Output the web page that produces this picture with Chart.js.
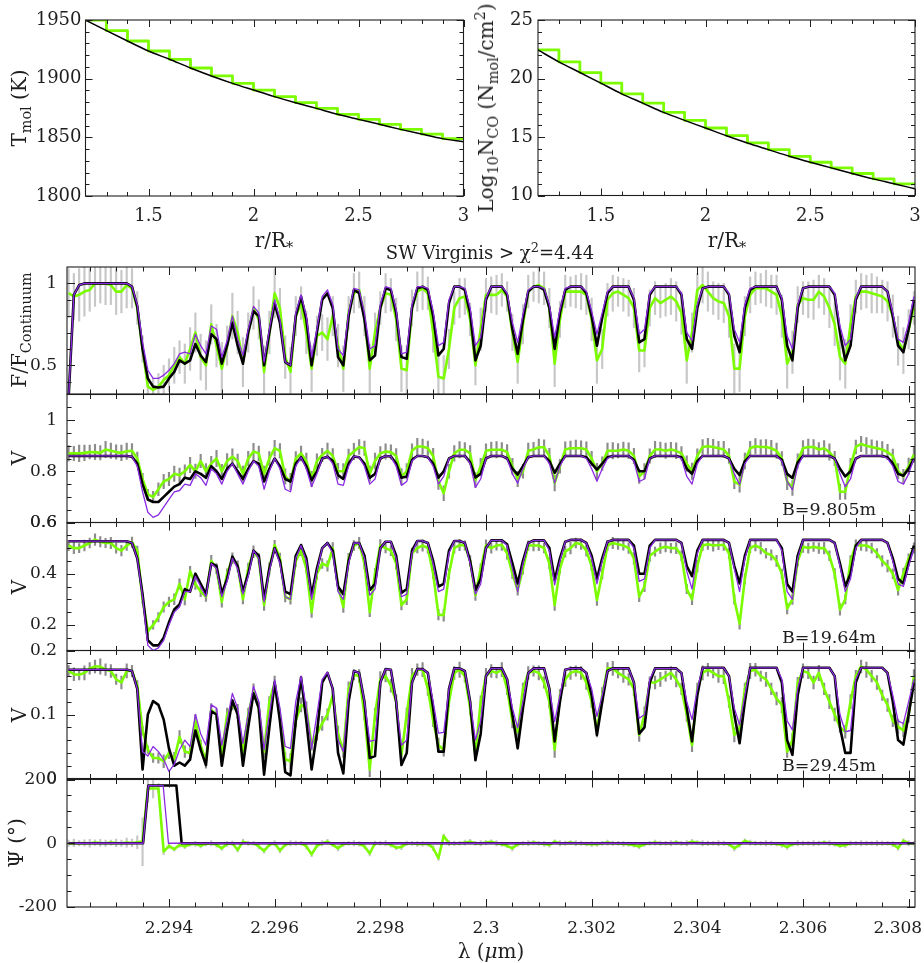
<!DOCTYPE html>
<html lang="en"><head><meta charset="utf-8"><title>SW Virginis CO model fit</title>
<script src="https://cdn.jsdelivr.net/npm/chart.js@4.4.1/dist/chart.umd.min.js"></script>
<style>
html,body{margin:0;padding:0;background:#fff;}
body{width:924px;height:963px;position:relative;overflow:hidden;font-family:'DejaVu Serif','Liberation Serif',serif;color:#1e1e1e;}
canvas{position:absolute;}
.lbl{position:absolute;white-space:nowrap;line-height:1;font-size:20px;font-family:'DejaVu Serif','Liberation Serif',serif;}
.rot{transform:translate(-50%,-50%) rotate(-90deg);}
.ctr{transform:translate(-50%,-50%);}
.lm{transform:translateY(-50%);}
.lbl sub{font-size:72%;vertical-align:-0.32em;line-height:0;}
.lbl sup{font-size:72%;vertical-align:0.55em;line-height:0;}
</style></head><body>
<canvas id="cTmol"></canvas>
<canvas id="cLogN"></canvas>
<canvas id="cFlux"></canvas>
<canvas id="cVis1"></canvas>
<canvas id="cVis2"></canvas>
<canvas id="cVis3"></canvas>
<canvas id="cPsi"></canvas>
<div class="lbl rot" style="left:19px;top:108px">T<sub>mol</sub> (K)</div>
<div class="lbl rot" style="left:486px;top:108px">Log<sub>10</sub>N<sub>CO</sub> (N<sub>mol</sub>/cm<sup>2</sup>)</div>
<div class="lbl ctr" style="left:274px;top:240px">r/R<sub>*</sub></div>
<div class="lbl ctr" style="left:727px;top:240px">r/R<sub>*</sub></div>
<div class="lbl ctr" style="left:490px;top:253px;font-size:18px">SW Virginis &gt; χ<sup>2</sup>=4.44</div>
<div class="lbl rot" style="left:19px;top:330px">F/F<sub>Continuum</sub></div>
<div class="lbl rot" style="left:19px;top:458px">V</div>
<div class="lbl rot" style="left:19px;top:587px">V</div>
<div class="lbl rot" style="left:19px;top:715px">V</div>
<div class="lbl rot" style="left:16px;top:843px">Ψ (°)</div>
<div class="lbl ctr" style="left:491px;top:951px">λ (<i>μ</i>m)</div>
<div class="lbl lm" style="left:782px;top:510px;font-size:17.5px">B=9.805m</div>
<div class="lbl lm" style="left:782px;top:638px;font-size:17.5px">B=19.64m</div>
<div class="lbl lm" style="left:782px;top:766px;font-size:17.5px">B=29.45m</div>
<script>
// ---------------- data ----------------
const lambda = [
2.2921,2.2922,2.2923,2.2924,2.2925,2.2926,2.2927,2.2928,2.2929,2.2930,
2.2931,2.2932,2.2933,2.2934,2.2935,2.2936,2.2937,2.2938,2.2939,2.2940,
2.2941,2.2942,2.2943,2.2944,2.2945,2.2946,2.2947,2.2948,2.2949,2.2950,
2.2951,2.2952,2.2953,2.2954,2.2955,2.2956,2.2957,2.2958,2.2959,2.2960,
2.2961,2.2962,2.2963,2.2964,2.2965,2.2966,2.2967,2.2968,2.2969,2.2970,
2.2971,2.2972,2.2973,2.2974,2.2975,2.2976,2.2977,2.2978,2.2979,2.2980,
2.2981,2.2982,2.2983,2.2984,2.2985,2.2986,2.2987,2.2988,2.2989,2.2990,
2.2991,2.2992,2.2993,2.2994,2.2995,2.2996,2.2997,2.2998,2.2999,2.3000,
2.3001,2.3002,2.3003,2.3004,2.3005,2.3006,2.3007,2.3008,2.3009,2.3010,
2.3011,2.3012,2.3013,2.3014,2.3015,2.3016,2.3017,2.3018,2.3019,2.3020,
2.3021,2.3022,2.3023,2.3024,2.3025,2.3026,2.3027,2.3028,2.3029,2.3030,
2.3031,2.3032,2.3033,2.3034,2.3035,2.3036,2.3037,2.3038,2.3039,2.3040,
2.3041,2.3042,2.3043,2.3044,2.3045,2.3046,2.3047,2.3048,2.3049,2.3050,
2.3051,2.3052,2.3053,2.3054,2.3055,2.3056,2.3057,2.3058,2.3059,2.3060,
2.3061,2.3062,2.3063,2.3064,2.3065,2.3066,2.3067,2.3068,2.3069,2.3070,
2.3071,2.3072,2.3073,2.3074,2.3075,2.3076,2.3077,2.3078,2.3079,2.3080,
2.3081];

const fluxObs = [
0.94,0.92,0.93,0.95,0.96,1.00,1.00,1.00,0.99,0.95,
0.95,0.99,0.97,0.85,0.60,0.37,0.35,0.37,0.41,0.44,
0.50,0.55,0.51,0.60,0.70,0.55,0.50,0.75,0.62,0.48,
0.62,0.80,0.70,0.52,0.70,0.85,0.78,0.46,0.70,0.94,
0.85,0.55,0.46,0.80,0.88,0.70,0.48,0.68,0.70,0.66,
0.80,0.62,0.48,0.82,0.94,0.96,0.80,0.48,0.70,0.85,
0.94,0.93,0.78,0.48,0.47,0.85,0.95,0.97,0.94,0.70,
0.43,0.42,0.60,0.85,0.91,0.92,0.78,0.50,0.72,0.93,
0.93,0.93,0.96,0.92,0.70,0.52,0.75,0.95,0.98,0.99,
0.97,0.85,0.51,0.78,0.95,0.95,0.95,0.95,0.93,0.78,
0.53,0.60,0.90,0.94,0.95,0.93,0.91,0.85,0.59,0.59,
0.85,0.91,0.88,0.90,0.92,0.89,0.82,0.53,0.70,0.96,
0.99,0.95,0.91,0.89,0.88,0.80,0.48,0.48,0.80,0.93,
0.97,0.97,0.97,0.95,0.93,0.80,0.51,0.58,0.87,0.91,
0.90,0.90,0.95,0.92,0.85,0.75,0.55,0.51,0.75,0.92,
0.95,0.95,0.94,0.93,0.92,0.89,0.80,0.65,0.59,0.72,
0.85];
const fluxModelA = [
0.30,0.93,0.99,1.00,1.00,1.00,1.00,1.00,1.00,1.00,
1.00,1.00,0.98,0.86,0.60,0.42,0.37,0.365,0.37,0.42,
0.46,0.53,0.51,0.53,0.63,0.56,0.52,0.69,0.66,0.51,
0.62,0.76,0.62,0.51,0.70,0.83,0.80,0.50,0.70,0.88,
0.76,0.52,0.50,0.80,0.92,0.78,0.50,0.70,0.90,0.94,
0.85,0.55,0.50,0.80,0.96,0.94,0.78,0.53,0.56,0.85,
0.97,0.96,0.82,0.55,0.54,0.85,0.97,0.98,0.96,0.80,
0.56,0.60,0.88,0.98,0.98,0.96,0.82,0.53,0.62,0.90,
0.98,0.98,0.98,0.93,0.72,0.57,0.78,0.95,0.98,0.98,
0.96,0.85,0.60,0.82,0.96,0.98,0.98,0.98,0.94,0.80,
0.62,0.79,0.94,0.98,0.98,0.98,0.98,0.90,0.64,0.66,
0.93,0.98,0.98,0.98,0.98,0.98,0.93,0.66,0.60,0.85,
0.97,0.98,0.98,0.98,0.98,0.93,0.68,0.58,0.85,0.96,
0.98,0.98,0.98,0.98,0.98,0.90,0.62,0.53,0.85,0.97,
0.98,0.98,0.98,0.98,0.98,0.93,0.70,0.53,0.62,0.90,
0.98,0.98,0.98,0.98,0.98,0.95,0.80,0.62,0.58,0.72,
0.90];
const fluxModelB = [
0.30,0.93,0.99,1.00,1.00,1.00,1.00,1.00,1.00,1.00,
1.00,1.00,0.98,0.87,0.64,0.47,0.42,0.42,0.44,0.47,
0.51,0.57,0.58,0.57,0.69,0.62,0.57,0.74,0.72,0.55,
0.65,0.80,0.66,0.56,0.72,0.86,0.82,0.52,0.72,0.90,
0.78,0.52,0.50,0.82,0.93,0.80,0.55,0.72,0.92,0.96,
0.87,0.60,0.56,0.82,0.97,0.96,0.82,0.60,0.62,0.87,
0.98,0.97,0.84,0.57,0.58,0.87,0.98,0.98,0.97,0.83,
0.62,0.64,0.90,0.98,0.98,0.97,0.85,0.62,0.67,0.91,
0.98,0.98,0.98,0.94,0.76,0.64,0.81,0.96,0.98,0.98,
0.97,0.87,0.67,0.84,0.97,0.98,0.98,0.98,0.95,0.83,
0.69,0.82,0.95,0.98,0.98,0.98,0.98,0.91,0.69,0.72,
0.94,0.98,0.98,0.98,0.98,0.98,0.94,0.70,0.65,0.87,
0.97,0.98,0.98,0.98,0.98,0.94,0.72,0.64,0.87,0.97,
0.98,0.98,0.98,0.98,0.98,0.91,0.68,0.60,0.87,0.97,
0.98,0.98,0.98,0.98,0.98,0.94,0.74,0.62,0.66,0.91,
0.98,0.98,0.98,0.98,0.98,0.95,0.82,0.66,0.64,0.76,
0.92];
const fluxErr = [
0.15,0.14,0.16,0.15,0.13,0.14,0.12,0.13,0.12,0.14,
0.13,0.14,0.12,0.10,0.08,0.06,0.07,0.08,0.09,0.10,
0.11,0.10,0.12,0.13,0.12,0.14,0.15,0.12,0.13,0.16,
0.12,0.14,0.13,0.15,0.12,0.13,0.12,0.16,0.13,0.15,
0.12,0.13,0.15,0.12,0.10,0.13,0.14,0.12,0.11,0.13,
0.12,0.13,0.14,0.10,0.12,0.11,0.12,0.15,0.12,0.10,
0.12,0.10,0.13,0.14,0.15,0.11,0.12,0.13,0.10,0.12,
0.15,0.14,0.12,0.10,0.12,0.11,0.10,0.12,0.13,0.10,
0.11,0.12,0.10,0.09,0.11,0.13,0.12,0.10,0.09,0.11,
0.10,0.12,0.14,0.11,0.10,0.09,0.10,0.11,0.12,0.13,
0.14,0.12,0.10,0.11,0.09,0.10,0.11,0.12,0.13,0.10,
0.11,0.10,0.09,0.10,0.11,0.12,0.13,0.14,0.12,0.10,
0.11,0.12,0.10,0.11,0.12,0.13,0.15,0.14,0.12,0.11,
0.10,0.09,0.11,0.10,0.12,0.13,0.15,0.13,0.11,0.10,
0.11,0.12,0.10,0.11,0.12,0.13,0.14,0.15,0.12,0.10,
0.11,0.10,0.12,0.11,0.10,0.12,0.13,0.15,0.14,0.12,
0.10];

const vis1Obs = [
0.870,0.870,0.870,0.872,0.875,0.875,0.872,0.885,0.880,0.875,
0.872,0.878,0.880,0.850,0.770,0.710,0.700,0.730,0.760,0.770,
0.790,0.785,0.800,0.825,0.800,0.840,0.800,0.830,0.850,0.800,
0.840,0.857,0.840,0.790,0.850,0.877,0.870,0.790,0.850,0.890,
0.880,0.780,0.760,0.850,0.870,0.840,0.770,0.840,0.864,0.880,
0.860,0.800,0.800,0.860,0.877,0.895,0.890,0.790,0.840,0.870,
0.877,0.875,0.860,0.780,0.800,0.880,0.897,0.897,0.890,0.860,
0.760,0.714,0.800,0.870,0.884,0.884,0.870,0.766,0.820,0.880,
0.884,0.884,0.884,0.875,0.820,0.770,0.800,0.880,0.885,0.894,
0.894,0.860,0.754,0.820,0.885,0.890,0.890,0.890,0.885,0.850,
0.800,0.830,0.880,0.880,0.880,0.885,0.880,0.860,0.780,0.800,
0.860,0.885,0.885,0.880,0.885,0.880,0.870,0.830,0.800,0.860,
0.895,0.898,0.895,0.890,0.885,0.860,0.760,0.748,0.840,0.890,
0.898,0.895,0.895,0.890,0.880,0.850,0.760,0.735,0.840,0.890,
0.895,0.895,0.885,0.890,0.875,0.850,0.720,0.720,0.820,0.895,
0.907,0.900,0.895,0.890,0.885,0.875,0.860,0.800,0.780,0.820,
0.865];
const vis1ModelA = [
0.86,0.86,0.86,0.86,0.86,0.86,0.86,0.86,0.86,0.86,
0.86,0.86,0.857,0.83,0.75,0.69,0.68,0.68,0.70,0.72,
0.74,0.75,0.775,0.77,0.80,0.79,0.775,0.82,0.80,0.77,
0.81,0.83,0.80,0.77,0.81,0.84,0.83,0.76,0.81,0.85,
0.82,0.77,0.76,0.83,0.855,0.82,0.765,0.80,0.85,0.857,
0.84,0.785,0.77,0.83,0.858,0.855,0.83,0.775,0.79,0.85,
0.86,0.858,0.83,0.775,0.78,0.845,0.86,0.86,0.855,0.83,
0.775,0.80,0.85,0.86,0.86,0.86,0.835,0.776,0.79,0.85,
0.86,0.86,0.86,0.85,0.81,0.787,0.82,0.855,0.86,0.86,
0.86,0.84,0.794,0.83,0.86,0.86,0.86,0.86,0.855,0.83,
0.807,0.83,0.855,0.86,0.86,0.86,0.86,0.845,0.80,0.80,
0.85,0.86,0.86,0.86,0.86,0.86,0.855,0.81,0.79,0.84,
0.86,0.86,0.86,0.86,0.86,0.85,0.81,0.785,0.84,0.86,
0.86,0.86,0.86,0.86,0.86,0.845,0.79,0.774,0.835,0.86,
0.86,0.86,0.86,0.86,0.86,0.85,0.81,0.78,0.80,0.85,
0.86,0.86,0.86,0.86,0.86,0.855,0.83,0.79,0.783,0.81,
0.85];
const vis1ModelB = [
0.86,0.86,0.86,0.86,0.86,0.86,0.86,0.86,0.86,0.86,
0.86,0.86,0.857,0.82,0.72,0.64,0.62,0.63,0.66,0.69,
0.72,0.725,0.75,0.745,0.79,0.775,0.745,0.81,0.79,0.75,
0.80,0.83,0.79,0.75,0.80,0.84,0.82,0.73,0.80,0.85,
0.81,0.73,0.72,0.82,0.855,0.81,0.74,0.79,0.85,0.857,
0.83,0.75,0.745,0.82,0.858,0.855,0.82,0.75,0.77,0.85,
0.86,0.858,0.82,0.745,0.76,0.84,0.86,0.86,0.855,0.82,
0.75,0.78,0.85,0.86,0.86,0.86,0.83,0.737,0.77,0.85,
0.86,0.86,0.86,0.85,0.79,0.754,0.81,0.855,0.86,0.86,
0.86,0.83,0.754,0.82,0.86,0.86,0.86,0.86,0.85,0.81,
0.761,0.81,0.85,0.86,0.86,0.86,0.86,0.84,0.76,0.77,
0.85,0.86,0.86,0.86,0.86,0.86,0.85,0.78,0.75,0.83,
0.86,0.86,0.86,0.86,0.86,0.85,0.79,0.748,0.83,0.86,
0.86,0.86,0.86,0.86,0.86,0.84,0.76,0.728,0.82,0.86,
0.86,0.86,0.86,0.86,0.86,0.85,0.79,0.74,0.77,0.85,
0.86,0.86,0.86,0.86,0.86,0.85,0.82,0.76,0.75,0.79,
0.85];
const vis1Err = [
0.030,0.028,0.032,0.030,0.027,0.030,0.028,0.032,0.030,0.028,
0.030,0.032,0.028,0.025,0.022,0.020,0.022,0.025,0.028,0.026,
0.030,0.028,0.025,0.030,0.028,0.026,0.030,0.028,0.032,0.027,
0.029,0.031,0.027,0.030,0.028,0.032,0.029,0.030,0.027,0.031,
0.028,0.030,0.032,0.027,0.029,0.031,0.030,0.028,0.026,0.030,
0.029,0.031,0.030,0.027,0.032,0.029,0.028,0.030,0.031,0.027,
0.030,0.028,0.029,0.031,0.030,0.027,0.032,0.029,0.028,0.030,
0.031,0.029,0.027,0.030,0.032,0.028,0.030,0.029,0.031,0.027,
0.030,0.032,0.028,0.029,0.031,0.030,0.027,0.030,0.028,0.032,
0.029,0.030,0.031,0.027,0.030,0.028,0.032,0.029,0.030,0.028,
0.031,0.027,0.030,0.032,0.028,0.029,0.031,0.030,0.027,0.030,
0.028,0.032,0.029,0.030,0.028,0.031,0.027,0.030,0.032,0.028,
0.029,0.031,0.030,0.027,0.032,0.029,0.028,0.030,0.031,0.027,
0.030,0.028,0.029,0.031,0.030,0.027,0.032,0.029,0.028,0.030,
0.031,0.029,0.027,0.030,0.032,0.028,0.030,0.029,0.031,0.027,
0.030,0.032,0.028,0.029,0.031,0.030,0.027,0.030,0.028,0.032,
0.029];

const vis2Obs = [
0.510,0.500,0.500,0.510,0.520,0.533,0.525,0.520,0.520,0.500,
0.490,0.510,0.523,0.490,0.300,0.175,0.200,0.230,0.270,0.290,
0.300,0.360,0.300,0.410,0.360,0.330,0.310,0.450,0.420,0.290,
0.400,0.460,0.430,0.300,0.420,0.486,0.460,0.277,0.420,0.512,
0.460,0.310,0.300,0.450,0.490,0.420,0.250,0.400,0.440,0.430,
0.500,0.350,0.270,0.460,0.510,0.520,0.440,0.250,0.400,0.510,
0.500,0.490,0.440,0.277,0.300,0.480,0.500,0.510,0.500,0.400,
0.240,0.238,0.400,0.500,0.512,0.510,0.450,0.316,0.420,0.510,
0.500,0.510,0.512,0.480,0.400,0.336,0.420,0.510,0.510,0.510,
0.500,0.440,0.277,0.420,0.486,0.500,0.520,0.515,0.490,0.430,
0.297,0.400,0.510,0.520,0.515,0.510,0.500,0.460,0.310,0.350,
0.470,0.486,0.500,0.505,0.500,0.500,0.470,0.340,0.300,0.430,
0.510,0.515,0.510,0.512,0.512,0.480,0.300,0.205,0.380,0.500,
0.510,0.500,0.480,0.473,0.450,0.400,0.264,0.300,0.450,0.505,
0.500,0.505,0.500,0.500,0.470,0.400,0.260,0.300,0.450,0.512,
0.510,0.510,0.500,0.480,0.450,0.430,0.400,0.336,0.400,0.460,
0.500];
const vis2ModelA = [
0.527,0.527,0.527,0.527,0.527,0.527,0.527,0.527,0.527,0.527,
0.527,0.527,0.52,0.46,0.32,0.14,0.12,0.12,0.15,0.21,
0.26,0.28,0.34,0.33,0.40,0.36,0.32,0.44,0.43,0.323,
0.38,0.467,0.43,0.33,0.40,0.49,0.47,0.30,0.42,0.50,
0.45,0.33,0.32,0.47,0.512,0.46,0.316,0.42,0.50,0.52,
0.49,0.35,0.32,0.45,0.52,0.52,0.47,0.336,0.36,0.50,
0.525,0.525,0.47,0.325,0.34,0.49,0.528,0.528,0.52,0.45,
0.35,0.36,0.49,0.528,0.528,0.52,0.45,0.336,0.38,0.50,
0.53,0.53,0.53,0.515,0.44,0.362,0.45,0.52,0.53,0.53,
0.53,0.50,0.375,0.46,0.525,0.532,0.532,0.532,0.52,0.47,
0.38,0.46,0.525,0.532,0.532,0.532,0.532,0.51,0.40,0.40,
0.51,0.532,0.532,0.532,0.532,0.532,0.52,0.43,0.39,0.49,
0.532,0.532,0.532,0.532,0.532,0.52,0.43,0.362,0.47,0.532,
0.532,0.532,0.532,0.532,0.532,0.50,0.36,0.33,0.47,0.532,
0.532,0.532,0.532,0.532,0.532,0.52,0.44,0.35,0.40,0.51,
0.532,0.532,0.532,0.532,0.532,0.52,0.46,0.38,0.362,0.44,
0.51];
const vis2ModelB = [
0.527,0.527,0.527,0.527,0.527,0.527,0.527,0.527,0.527,0.527,
0.527,0.527,0.52,0.46,0.31,0.12,0.10,0.11,0.14,0.20,
0.25,0.27,0.33,0.33,0.39,0.35,0.31,0.44,0.42,0.31,
0.37,0.46,0.42,0.32,0.39,0.49,0.46,0.29,0.41,0.50,
0.44,0.31,0.30,0.46,0.51,0.45,0.30,0.41,0.50,0.52,
0.48,0.33,0.30,0.44,0.52,0.52,0.46,0.316,0.34,0.50,
0.525,0.525,0.46,0.31,0.32,0.48,0.528,0.528,0.52,0.44,
0.33,0.34,0.48,0.528,0.528,0.52,0.44,0.32,0.36,0.50,
0.53,0.53,0.53,0.51,0.42,0.33,0.44,0.52,0.53,0.53,
0.53,0.49,0.356,0.45,0.525,0.532,0.532,0.532,0.52,0.46,
0.36,0.45,0.525,0.532,0.532,0.532,0.532,0.50,0.37,0.38,
0.50,0.532,0.532,0.532,0.532,0.532,0.52,0.41,0.34,0.48,
0.532,0.532,0.532,0.532,0.532,0.52,0.42,0.33,0.46,0.532,
0.532,0.532,0.532,0.532,0.532,0.49,0.33,0.30,0.46,0.532,
0.532,0.532,0.532,0.532,0.532,0.52,0.43,0.33,0.38,0.50,
0.532,0.532,0.532,0.532,0.532,0.52,0.45,0.36,0.35,0.43,
0.50];
const vis2Err = [
0.020,0.022,0.018,0.021,0.019,0.023,0.020,0.018,0.022,0.020,
0.021,0.019,0.020,0.018,0.016,0.015,0.017,0.018,0.020,0.019,
0.021,0.020,0.022,0.019,0.021,0.020,0.018,0.022,0.020,0.021,
0.019,0.022,0.020,0.018,0.021,0.023,0.019,0.020,0.022,0.018,
0.021,0.020,0.019,0.022,0.020,0.018,0.021,0.023,0.019,0.020,
0.022,0.018,0.021,0.020,0.019,0.022,0.020,0.018,0.021,0.023,
0.019,0.020,0.022,0.018,0.021,0.020,0.019,0.022,0.020,0.018,
0.021,0.023,0.019,0.020,0.022,0.018,0.021,0.020,0.019,0.022,
0.020,0.018,0.021,0.023,0.019,0.020,0.022,0.018,0.021,0.020,
0.019,0.022,0.020,0.018,0.021,0.023,0.019,0.020,0.022,0.018,
0.021,0.020,0.019,0.022,0.020,0.018,0.021,0.023,0.019,0.020,
0.022,0.018,0.021,0.020,0.019,0.022,0.020,0.018,0.021,0.023,
0.019,0.020,0.022,0.018,0.021,0.020,0.019,0.022,0.020,0.018,
0.021,0.023,0.019,0.020,0.022,0.018,0.021,0.020,0.019,0.022,
0.020,0.018,0.021,0.023,0.019,0.020,0.022,0.018,0.021,0.020,
0.019,0.022,0.020,0.018,0.021,0.023,0.019,0.020,0.022,0.018,
0.021];

const vis3Obs = [
0.168,0.163,0.162,0.165,0.172,0.175,0.175,0.170,0.168,0.155,
0.150,0.168,0.168,0.145,0.075,0.045,0.032,0.032,0.027,0.040,
0.030,0.065,0.042,0.040,0.090,0.052,0.027,0.107,0.100,0.037,
0.100,0.115,0.105,0.040,0.100,0.136,0.110,0.042,0.120,0.149,
0.100,0.030,0.027,0.090,0.115,0.110,0.052,0.070,0.086,0.100,
0.130,0.070,0.042,0.140,0.162,0.160,0.100,0.014,0.100,0.155,
0.160,0.145,0.120,0.037,0.100,0.160,0.170,0.170,0.140,0.090,
0.052,0.045,0.120,0.165,0.170,0.160,0.110,0.037,0.120,0.160,
0.168,0.165,0.170,0.140,0.089,0.073,0.140,0.165,0.168,0.165,
0.150,0.120,0.045,0.130,0.155,0.165,0.168,0.165,0.150,0.120,
0.075,0.130,0.172,0.172,0.165,0.160,0.155,0.140,0.068,0.100,
0.150,0.150,0.155,0.160,0.165,0.155,0.140,0.100,0.052,0.140,
0.165,0.170,0.165,0.160,0.160,0.120,0.068,0.078,0.140,0.168,
0.170,0.160,0.155,0.140,0.125,0.115,0.042,0.060,0.150,0.168,
0.165,0.150,0.165,0.140,0.120,0.100,0.080,0.073,0.120,0.160,
0.175,0.170,0.160,0.150,0.130,0.115,0.090,0.081,0.075,0.100,
0.160];
const vis3ModelA = [
0.170,0.170,0.170,0.170,0.170,0.170,0.170,0.170,0.170,0.170,
0.170,0.170,0.168,0.140,0.014,0.100,0.121,0.115,0.092,0.047,
0.020,0.025,0.020,0.030,0.075,0.045,0.021,0.105,0.100,0.020,
0.075,0.122,0.100,0.020,0.080,0.133,0.110,0.006,0.080,0.150,
0.090,0.010,0.005,0.090,0.158,0.090,0.014,0.070,0.150,0.165,
0.140,0.040,0.008,0.120,0.168,0.165,0.120,0.032,0.035,0.150,
0.171,0.170,0.120,0.021,0.040,0.150,0.171,0.171,0.165,0.110,
0.042,0.042,0.140,0.172,0.172,0.168,0.120,0.029,0.070,0.160,
0.172,0.172,0.172,0.155,0.100,0.047,0.110,0.165,0.172,0.172,
0.172,0.140,0.058,0.120,0.170,0.172,0.172,0.172,0.165,0.130,
0.068,0.120,0.168,0.172,0.172,0.172,0.172,0.150,0.070,0.080,
0.150,0.172,0.172,0.172,0.172,0.172,0.165,0.110,0.058,0.130,
0.173,0.173,0.173,0.173,0.173,0.160,0.100,0.055,0.120,0.173,
0.173,0.173,0.173,0.173,0.173,0.150,0.060,0.037,0.130,0.173,
0.173,0.173,0.173,0.173,0.173,0.160,0.080,0.040,0.040,0.150,
0.173,0.173,0.173,0.173,0.173,0.165,0.120,0.060,0.053,0.100,
0.150];
const vis3ModelB = [
0.170,0.170,0.170,0.170,0.170,0.170,0.170,0.170,0.170,0.170,
0.170,0.170,0.168,0.140,0.042,0.035,0.050,0.042,0.030,0.011,
0.022,0.045,0.060,0.050,0.100,0.070,0.052,0.115,0.110,0.052,
0.090,0.133,0.110,0.055,0.100,0.144,0.120,0.045,0.100,0.154,
0.110,0.050,0.047,0.120,0.160,0.110,0.047,0.100,0.155,0.166,
0.140,0.060,0.042,0.130,0.168,0.165,0.120,0.058,0.060,0.150,
0.171,0.170,0.120,0.052,0.060,0.150,0.171,0.171,0.165,0.120,
0.071,0.072,0.140,0.172,0.172,0.168,0.120,0.060,0.090,0.160,
0.172,0.172,0.172,0.155,0.110,0.079,0.120,0.165,0.172,0.172,
0.172,0.140,0.089,0.130,0.170,0.172,0.172,0.172,0.165,0.140,
0.097,0.130,0.168,0.172,0.172,0.172,0.172,0.150,0.094,0.100,
0.155,0.172,0.172,0.172,0.172,0.172,0.165,0.120,0.092,0.140,
0.173,0.173,0.173,0.173,0.173,0.160,0.110,0.084,0.130,0.173,
0.173,0.173,0.173,0.173,0.173,0.155,0.090,0.076,0.140,0.173,
0.173,0.173,0.173,0.173,0.173,0.160,0.100,0.073,0.075,0.155,
0.173,0.173,0.173,0.173,0.173,0.165,0.130,0.090,0.086,0.120,
0.155];
const vis3Err = [
0.009,0.010,0.008,0.011,0.009,0.010,0.012,0.009,0.010,0.008,
0.010,0.011,0.009,0.008,0.007,0.006,0.007,0.008,0.010,0.009,
0.011,0.010,0.009,0.012,0.010,0.008,0.011,0.010,0.009,0.012,
0.010,0.008,0.011,0.009,0.010,0.012,0.009,0.010,0.008,0.011,
0.009,0.010,0.012,0.009,0.011,0.010,0.008,0.010,0.011,0.009,
0.010,0.012,0.009,0.011,0.008,0.010,0.009,0.011,0.010,0.012,
0.009,0.010,0.011,0.008,0.010,0.012,0.009,0.011,0.010,0.009,
0.011,0.010,0.008,0.010,0.012,0.009,0.011,0.010,0.009,0.012,
0.010,0.008,0.011,0.009,0.010,0.012,0.009,0.010,0.008,0.011,
0.009,0.010,0.012,0.009,0.011,0.010,0.008,0.010,0.011,0.009,
0.010,0.012,0.009,0.011,0.008,0.010,0.009,0.011,0.010,0.012,
0.009,0.010,0.011,0.008,0.010,0.012,0.009,0.011,0.010,0.009,
0.011,0.010,0.008,0.010,0.012,0.009,0.011,0.010,0.009,0.012,
0.010,0.008,0.011,0.009,0.010,0.012,0.009,0.010,0.008,0.011,
0.009,0.010,0.012,0.009,0.011,0.010,0.008,0.010,0.011,0.009,
0.010,0.012,0.009,0.011,0.008,0.010,0.009,0.011,0.010,0.012,
0.010];

const psiObs = [
0,1,0,1,0,2,1,0,2,1,
0,2,1,3,5,172,172,172,-26,-8,
-19,-5,-10,-3,-2,-8,-2,0,-5,-16,
-2,0,-21,5,0,0,-10,-24,-5,0,
-23,-5,0,0,0,-10,-35,-8,0,5,
-5,-16,-3,0,0,-2,-10,-32,0,0,
0,-5,-14,-12,0,0,-2,-2,-2,-15,
-47,23,0,0,0,2,5,0,0,2,
5,0,-3,-8,-16,-3,0,0,2,0,
-2,-5,5,0,0,2,0,0,-2,-3,
-3,0,2,0,0,-2,-3,-6,-10,-3,
0,2,0,0,0,2,0,0,5,2,
0,0,0,0,0,-3,-16,-5,8,2,
0,0,0,0,-2,-5,-12,-3,0,0,
0,0,0,2,0,-3,-8,-6,0,0,
0,0,0,0,0,0,-3,-15,8,0,
0];
const psiErr = [
10,12,8,10,12,9,11,10,8,12,
10,14,12,20,75,45,30,15,10,8,
6,8,7,6,8,7,6,8,7,6,
8,7,6,8,7,6,8,7,6,8,
7,6,8,7,6,8,7,6,8,7,
6,8,7,6,8,7,6,8,7,6,
8,7,6,8,7,6,8,7,6,8,
7,6,8,7,6,8,7,6,8,7,
6,8,7,6,8,7,6,8,7,6,
8,7,6,8,7,6,8,7,6,8,
7,6,8,7,6,8,7,6,8,7,
6,8,7,6,8,7,6,8,7,6,
8,7,6,8,7,6,8,7,6,8,
7,6,8,7,6,8,7,6,8,7,
6,8,7,6,8,7,6,8,7,6,
8,7,6,8,7,6,8,7,6,8,
6];
const psiModelAX = [2.2921, 2.29351, 2.29361, 2.29414, 2.29424, 2.3081];
const psiModelAY = [0, 0, 181, 181, 0, 0];
const psiModelBX = [2.2921, 2.29351, 2.29361, 2.29389, 2.29399, 2.3081];
const psiModelBY = [0, 0, 181, 181, 0, 0];

const radius = [1.2,1.3,1.4,1.5,1.6,1.7,1.8,1.9,2.0,2.1,2.2,2.3,2.4,2.5,2.6,2.7,2.8,2.9,3.0];
const tmolModel = [1950,1940.9,1932.1,1923.6,1916.5,1909.1,1902.3,1896.0,1890.3,1884.7,1879.5,1874.7,1869.6,1865.3,1861.1,1856.8,1852.8,1848.9,1846.3];
const tmolStep  = [1950,1940.9,1932.1,1923.6,1916.5,1909.1,1902.3,1896.0,1890.3,1884.7,1879.5,1874.7,1869.6,1865.3,1861.1,1856.8,1852.8,1848.9,1848.9];
const logNModel = [22.44,21.42,20.51,19.60,18.69,17.90,17.10,16.42,15.77,15.11,14.49,13.92,13.35,12.84,12.36,11.88,11.42,11.00,10.57];
const logNStep  = [22.44,21.42,20.51,19.60,18.69,17.90,17.10,16.42,15.77,15.11,14.49,13.92,13.35,12.84,12.36,11.88,11.42,11.00,11.00];

// ticks
const radiusTicks = [1.5,2,2.5,3];
const radiusTickLabels = ['1.5','2','2.5','3'];
const radiusMinor = [1.3,1.4,1.6,1.7,1.8,1.9,2.1,2.2,2.3,2.4,2.6,2.7,2.8,2.9];
const tmolTicks = [1800,1850,1900,1950];
const tmolTickLabels = ['1800','1850','1900','1950'];
const tmolMinor = [1810,1820,1830,1840,1860,1870,1880,1890,1910,1920,1930,1940];
const logNTicks = [10,15,20,25];
const logNTickLabels = ['10','15','20','25'];
const logNMinor = [11,12,13,14,16,17,18,19,21,22,23,24];
const lambdaTicks = [2.294,2.296,2.298,2.300,2.302,2.304,2.306,2.308];
const lambdaTickLabels = ['2.294','2.296','2.298','2.3','2.302','2.304','2.306','2.308\u2007\u2007'];
const lambdaMinor = [2.2925,2.2930,2.2935,2.2945,2.2950,2.2955,2.2965,2.2970,2.2975,2.2985,2.2990,2.2995,
  2.3005,2.3010,2.3015,2.3025,2.3030,2.3035,2.3045,2.3050,2.3055,2.3065,2.3070,2.3075];
const fluxTicks = [0.5,1], fluxTickLabels = ['0.5','1'], fluxMinor = [0.4,0.6,0.7,0.8,0.9];
const vis1Ticks = [0.6,0.8,1], vis1TickLabels = ['0.6','0.8','1'], vis1Minor = [0.65,0.7,0.75,0.85,0.9,0.95,1.05];
const vis2Ticks = [0.2,0.4,0.6], vis2TickLabels = ['0.2','0.4','0.6'], vis2Minor = [0.15,0.25,0.3,0.35,0.45,0.5,0.55];
const vis3Ticks = [0,0.1,0.2], vis3TickLabels = ['0','0.1','0.2'], vis3Minor = [0.02,0.04,0.06,0.08,0.12,0.14,0.16,0.18];
const psiTicks = [-200,0,200], psiTickLabels = ['-200','0','200'], psiMinor = [-150,-100,-50,50,100,150];

// ---------------- drawing ----------------
const GREEN = '#7cfc00', PURPLE = '#8a2be2', BLACK = '#000000', TXT = '#1e1e1e';
const FONT = "'DejaVu Serif', 'Liberation Serif', serif";
const frameSpecs = {};

Chart.register({
  id: 'frameTicks',
  afterDatasetsDraw(chart) {
    const s = frameSpecs[chart.canvas.id];
    if (!s) return;
    const ctx = chart.ctx, a = chart.chartArea, xs = chart.scales.x, ys = chart.scales.y;
    ctx.save();
    ctx.strokeStyle = TXT;
    ctx.lineWidth = 1;
    const seg = (x1, y1, x2, y2) => { ctx.beginPath(); ctx.moveTo(x1, y1); ctx.lineTo(x2, y2); ctx.stroke(); };
    const xt = (vals, len) => vals.forEach(v => { const p = Math.round(xs.getPixelForValue(v)) + 0.5; seg(p, a.bottom, p, a.bottom - len); seg(p, a.top, p, a.top + len); });
    const yt = (vals, len) => vals.forEach(v => { const p = Math.round(ys.getPixelForValue(v)) + 0.5; seg(a.left, p, a.left + len, p); seg(a.right, p, a.right - len, p); });
    xt(s.xMajor, s.maj); xt(s.xMinor, s.min); yt(s.yMajor, s.maj); yt(s.yMinor, s.min);
    ctx.lineWidth = 1.1;
    ctx.strokeRect(a.left, a.top, a.right - a.left, a.bottom - a.top);
    ctx.restore();
  }
});

const pts = (xs, ys) => xs.map((x, i) => ({x: x, y: ys[i]}));
const errPts = (xs, ys, es) => xs.map((x, i) => ({x: x, y: [ys[i] - es[i], ys[i] + es[i]]}));

function makeChart(id, g, datasets, ax) {
  const cv = document.getElementById(id);
  cv.width = g.cw; cv.height = g.ch;
  cv.style.left = g.cx + 'px'; cv.style.top = g.cy + 'px';
  cv.style.width = g.cw + 'px'; cv.style.height = g.ch + 'px';
  frameSpecs[id] = ax.frame;
  const font = {family: FONT, size: ax.fontSize};
  return new Chart(cv, {
    type: 'line',
    data: {datasets: datasets},
    options: {
      responsive: false, maintainAspectRatio: false, animation: false, devicePixelRatio: 1, events: [],
      layout: {padding: {top: g.T - g.cy, right: g.cx + g.cw - g.R, bottom: 0, left: 0}},
      plugins: {legend: {display: false}, tooltip: {enabled: false}, title: {display: false}},
      elements: {point: {radius: 0}, line: {tension: 0, fill: false, borderJoinStyle: 'round'}},
      scales: {
        x: {
          type: 'linear', position: 'bottom', min: ax.xmin, max: ax.xmax, bounds: 'data', offset: false,
          grid: {display: false, drawTicks: false}, border: {display: false},
          ticks: {display: ax.xShow, font: font, color: TXT, padding: ax.xPad, autoSkip: false, maxRotation: 0, minRotation: 0,
                  callback: (v, i) => ax.xLabels[i]},
          afterBuildTicks: s => { s.ticks = ax.xTicks.map(v => ({value: v})); },
          afterFit: s => { s.height = g.cy + g.ch - g.B; s.paddingLeft = 0; s.paddingRight = 0; }
        },
        y: {
          type: 'linear', position: 'left', min: ax.ymin, max: ax.ymax, bounds: 'data',
          grid: {display: false, drawTicks: false}, border: {display: false},
          ticks: {display: true, font: font, color: TXT, padding: ax.yPad, autoSkip: false,
                  callback: (v, i) => ax.yLabels[i]},
          afterBuildTicks: s => { s.ticks = ax.yTicks.map(v => ({value: v})); },
          afterFit: s => { s.width = g.L - g.cx; s.paddingTop = 0; s.paddingBottom = 0; }
        }
      }
    }
  });
}

function specSets(obs, mA, mB, err, barColor, xA, yA, xB, yB) {
  return [
    {type: 'bar', data: errPts(lambda, obs, err), backgroundColor: barColor, borderWidth: 0, barThickness: 1.5, grouped: false, order: 4, clip: 0},
    {type: 'line', data: pts(lambda, obs), borderColor: GREEN, borderWidth: 2.6, order: 3, clip: 0},
    {type: 'line', data: pts(xA || lambda, yA || mA), borderColor: BLACK, borderWidth: 2.6, order: 2, clip: 0},
    {type: 'line', data: pts(xB || lambda, yB || mB), borderColor: PURPLE, borderWidth: 1.3, order: 1, clip: 0}
  ];
}

const mainX = {xmin: 2.29207, xmax: 2.30812, xTicks: lambdaTicks, xLabels: lambdaTickLabels, fontSize: 17, yPad: 10};
const mainFrame = (yMaj, yMin) => ({xMajor: lambdaTicks, xMinor: lambdaMinor, yMajor: yMaj, yMinor: yMin, maj: 8, min: 4.5});

// top panels
makeChart('cTmol', {cx: 0, cy: 0, cw: 475, ch: 235, L: 85.5, R: 463.5, T: 20, B: 196}, [
  {data: pts(radius, tmolStep), borderColor: GREEN, borderWidth: 2.8, stepped: 'before', order: 2, clip: 0},
  {data: pts(radius, tmolModel), borderColor: BLACK, borderWidth: 1.5, cubicInterpolationMode: 'monotone', order: 1, clip: 0}
], {xmin: 1.2, xmax: 3, ymin: 1800, ymax: 1950, xTicks: radiusTicks, xLabels: radiusTickLabels, yTicks: tmolTicks, yLabels: tmolTickLabels,
    xShow: true, xPad: 10, yPad: 4, fontSize: 18,
    frame: {xMajor: radiusTicks, xMinor: radiusMinor, yMajor: tmolTicks, yMinor: tmolMinor, maj: 7, min: 4}});

makeChart('cLogN', {cx: 476, cy: 0, cw: 448, ch: 235, L: 538, R: 915, T: 20, B: 195.5}, [
  {data: pts(radius, logNStep), borderColor: GREEN, borderWidth: 2.8, stepped: 'before', order: 2, clip: 0},
  {data: pts(radius, logNModel), borderColor: BLACK, borderWidth: 1.5, cubicInterpolationMode: 'monotone', order: 1, clip: 0}
], {xmin: 1.2, xmax: 3, ymin: 10, ymax: 25, xTicks: radiusTicks, xLabels: radiusTickLabels, yTicks: logNTicks, yLabels: logNTickLabels,
    xShow: true, xPad: 10, yPad: 5, fontSize: 18,
    frame: {xMajor: radiusTicks, xMinor: radiusMinor, yMajor: logNTicks, yMinor: logNMinor, maj: 7, min: 4}});

// spectral panels
makeChart('cFlux', {cx: 0, cy: 255, cw: 924, ch: 152, L: 67, R: 915, T: 267, B: 394},
  specSets(fluxObs, fluxModelA, fluxModelB, fluxErr, 'rgba(175,175,175,0.7)'),
  Object.assign({}, mainX, {ymin: 0.325, ymax: 1.1, yTicks: fluxTicks, yLabels: fluxTickLabels, xShow: false, xPad: 12,
    frame: mainFrame(fluxTicks, fluxMinor)}));

makeChart('cVis1', {cx: 0, cy: 383, cw: 924, ch: 152, L: 67, R: 915, T: 394.5, B: 522.5},
  specSets(vis1Obs, vis1ModelA, vis1ModelB, vis1Err, 'rgba(120,120,120,0.85)'),
  Object.assign({}, mainX, {ymin: 0.6, ymax: 1.1, yTicks: vis1Ticks, yLabels: vis1TickLabels, xShow: false, xPad: 12,
    frame: mainFrame(vis1Ticks, vis1Minor)}));

makeChart('cVis2', {cx: 0, cy: 511, cw: 924, ch: 152, L: 67, R: 915, T: 522.5, B: 650.5},
  specSets(vis2Obs, vis2ModelA, vis2ModelB, vis2Err, 'rgba(120,120,120,0.85)'),
  Object.assign({}, mainX, {ymin: 0.1, ymax: 0.6, yTicks: vis2Ticks, yLabels: vis2TickLabels, xShow: false, xPad: 12,
    frame: mainFrame(vis2Ticks, vis2Minor)}));

makeChart('cVis3', {cx: 0, cy: 639, cw: 924, ch: 152, L: 67, R: 915, T: 650.5, B: 778.5},
  specSets(vis3Obs, vis3ModelA, vis3ModelB, vis3Err, 'rgba(120,120,120,0.85)'),
  Object.assign({}, mainX, {ymin: 0, ymax: 0.2, yTicks: vis3Ticks, yLabels: vis3TickLabels, xShow: false, xPad: 12,
    frame: mainFrame(vis3Ticks, vis3Minor)}));

makeChart('cPsi', {cx: 0, cy: 768, cw: 924, ch: 195, L: 67, R: 915, T: 779.5, B: 907},
  specSets(psiObs, null, null, psiErr, 'rgba(175,175,175,0.7)', psiModelAX, psiModelAY, psiModelBX, psiModelBY),
  Object.assign({}, mainX, {ymin: -200, ymax: 200, yTicks: psiTicks, yLabels: psiTickLabels, xShow: true, xPad: 11,
    frame: mainFrame(psiTicks, psiMinor)}));
</script>
</body></html>
